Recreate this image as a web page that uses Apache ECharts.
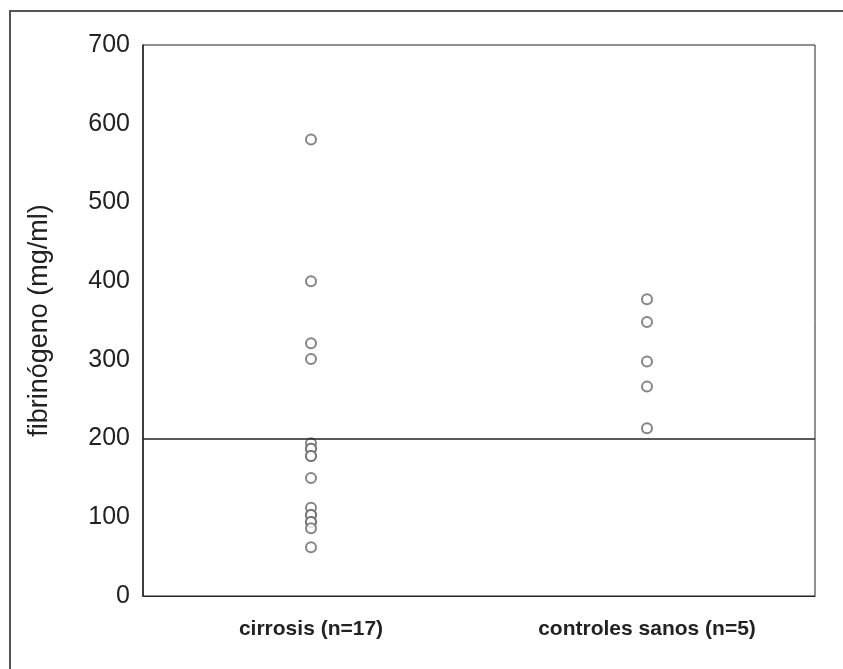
<!DOCTYPE html>
<html>
<head>
<meta charset="utf-8">
<script src="https://cdn.jsdelivr.net/npm/echarts@6/dist/echarts.min.js"></script>
<style>
  html, body { margin: 0; padding: 0; background: #fff; }
  #chart { width: 843px; height: 669px; }
</style>
</head>
<body>
<div id="chart"></div>
<script>
// grupos en el eje x
const categories = ['cirrosis (n=17)', 'controles sanos (n=5)'];
// fibrinógeno (mg/ml); algunos puntos se superponen
const cirrosis = [580, 400, 321, 301, 194, 187, 187, 178, 178, 150, 112, 103, 103, 94, 94, 86, 62];
const controles = [377, 348, 298, 266, 213];
const yTicks = [0, 100, 200, 300, 400, 500, 600, 700];
const cutoff = 200;

const chart = echarts.init(document.getElementById('chart'));

const points = [];
cirrosis.forEach(v => points.push([categories[0], v]));
controles.forEach(v => points.push([categories[1], v]));

const font = 'Liberation Sans, Arial, sans-serif';

chart.setOption({
  animation: false,
  backgroundColor: '#fff',
  grid: {
    left: 143, right: 28, top: 45, bottom: 73,
    show: true, borderColor: '#222', borderWidth: 1
  },
  graphic: [{
    type: 'rect',
    shape: { x: 10, y: 11, width: 900, height: 700 },
    style: { fill: 'none', stroke: '#555', lineWidth: 2 },
    silent: true
  }],
  xAxis: {
    type: 'category',
    data: categories,
    axisLine: { lineStyle: { color: '#222', width: 1 } },
    axisTick: { show: false },
    axisLabel: {
      color: '#222', fontFamily: font, fontSize: 21, fontWeight: 'bold', margin: 23
    }
  },
  yAxis: {
    type: 'value',
    min: yTicks[0],
    max: yTicks[yTicks.length - 1],
    interval: 100,
    name: 'fibrinógeno (mg/ml)',
    nameLocation: 'middle',
    nameGap: 90,
    nameTextStyle: { color: '#222', fontFamily: font, fontSize: 27 },
    splitLine: { show: false },
    axisLine: { show: true, lineStyle: { color: '#222', width: 1.5 } },
    axisTick: { show: false },
    axisLabel: { color: '#222', fontFamily: font, fontSize: 25, margin: 13 }
  },
  series: [{
    type: 'scatter',
    data: points,
    symbol: 'emptyCircle',
    symbolSize: 10,
    itemStyle: { color: '#666', borderColor: '#666', borderWidth: 1 },
    markLine: {
      silent: true,
      symbol: 'none',
      label: { show: false },
      lineStyle: { color: '#222', width: 1.5, type: 'solid' },
      data: [{ yAxis: cutoff }]
    }
  }]
});
</script>
</body>
</html>
